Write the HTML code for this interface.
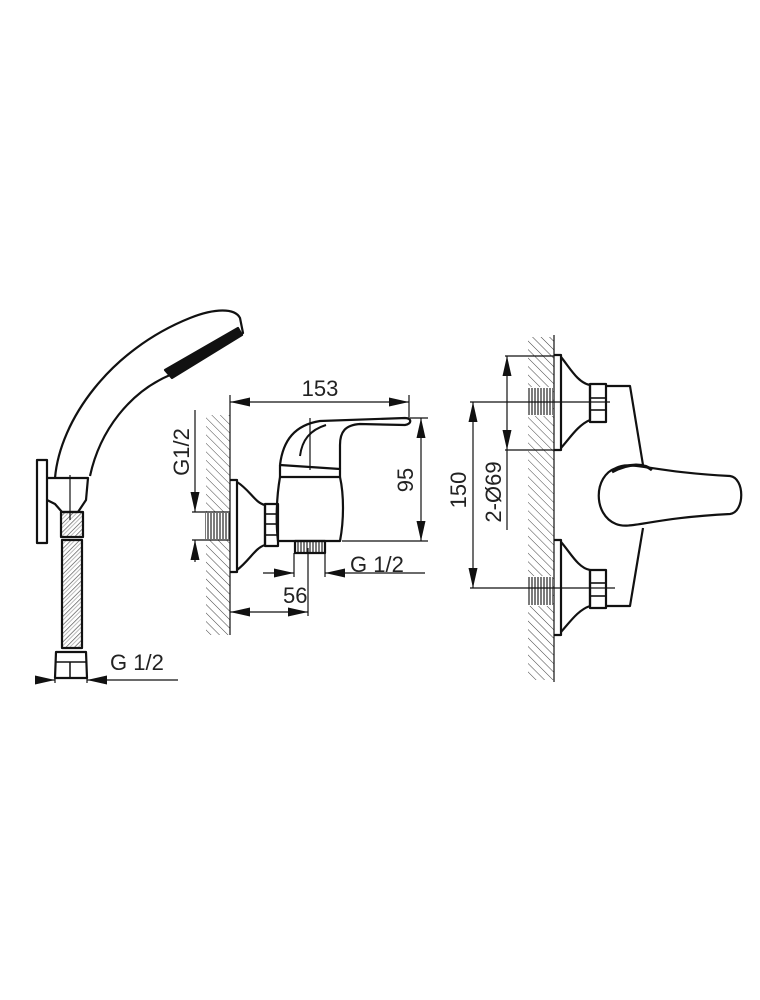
<!DOCTYPE html>
<html><head><style>
html,body{margin:0;padding:0;background:#fff}
svg{display:block}
text{font-family:"Liberation Sans",sans-serif;font-size:22px;fill:#222}
</style></head><body>
<svg width="760" height="1000" viewBox="0 0 760 1000" xmlns="http://www.w3.org/2000/svg">
<defs>
<pattern id="h" width="6" height="6" patternUnits="userSpaceOnUse" patternTransform="rotate(-45)">
<line x1="0" y1="0" x2="0" y2="6" stroke="#444" stroke-width="1"/>
</pattern>
<pattern id="t" width="3" height="4" patternUnits="userSpaceOnUse">
<line x1="1" y1="0" x2="1" y2="4" stroke="#333" stroke-width="1.3"/>
</pattern>
<pattern id="br" width="6" height="6" patternUnits="userSpaceOnUse" patternTransform="rotate(45)">
<line x1="0" y1="0" x2="0" y2="6" stroke="#444" stroke-width="1.3"/>
<line x1="3" y1="0" x2="3" y2="6" stroke="#aaa" stroke-width="0.8"/>
</pattern>
<marker id="a" viewBox="0 0 20 9" refX="20" refY="4.5" markerWidth="20" markerHeight="9" markerUnits="userSpaceOnUse" orient="auto-start-reverse">
<path d="M0,0 L20,4.5 L0,9 z" fill="#111"/>
</marker>
</defs>
<g fill="none" stroke="#111" stroke-width="2.2" stroke-linejoin="round">
<!-- LEFT: hand shower -->
<path d="M55,478 C60,420 110,350 190,318 C215,308 235,308 240,318 L243,333 L170,375 C130,392 100,430 90,476"/>
<path d="M165,370 L238,328 L242,335 L172,378 Z" fill="#111"/>
<rect x="37" y="460" width="10" height="83"/>
<path d="M47,478 L55,478 L88,478 L86,500 L78,512 L62,512 L55,504 L47,500"/>
<rect x="61" y="512" width="22" height="25" fill="url(#br)"/>
<rect x="62" y="540" width="20" height="108" fill="url(#br)"/>
<path d="M56,652 L86,652 L87,678 L55,678 Z"/>
<line x1="56" y1="662" x2="86" y2="662" stroke-width="1.5"/>
<line x1="70" y1="662" x2="70" y2="678" stroke-width="1.5"/>
</g>
<g stroke="#111" stroke-width="1.2" fill="none">
<line x1="70" y1="475" x2="70" y2="520"/>
<line x1="55" y1="678" x2="55" y2="683"/><line x1="87" y1="678" x2="87" y2="683"/>
<line x1="35" y1="680" x2="55" y2="680" marker-end="url(#a)"/>
<line x1="108" y1="680" x2="87" y2="680" marker-end="url(#a)"/>
<line x1="108" y1="680" x2="178" y2="680"/>
</g>
<text x="110" y="670">G 1/2</text>

<!-- MIDDLE -->
<rect x="206" y="415" width="24" height="220" fill="url(#h)"/>
<rect x="205" y="512" width="25" height="28" fill="#fff"/>
<rect x="205" y="513" width="25" height="26" fill="url(#t)"/>
<g fill="none" stroke="#111" stroke-width="2.2" stroke-linejoin="round">
<path d="M230,480 L237,480 L237,572 L230,572"/>
<path d="M237,482 C250,490 255,503 265,505 L265,545 C255,548 250,560 237,570"/>
<rect x="265" y="504" width="13" height="42"/>
<line x1="265" y1="514" x2="278" y2="514" stroke-width="1.6"/>
<line x1="265" y1="524" x2="278" y2="524" stroke-width="1.6"/>
<line x1="265" y1="535" x2="278" y2="535" stroke-width="1.6"/>
<path d="M280,477 C276,500 276,525 278,541 L340,541 C344,520 344,495 340,477 Z"/>
<path d="M280,465 L340,469 L340,477 M280,465 L280,477"/>
<path d="M280,465 C283,440 295,425 320,421 L405,418 C412,418 412,424 405,425 L360,424 C345,425 340,432 340,445 L340,469"/>
<path d="M300,456 C302,440 310,430 326,425" stroke-width="2"/>
<rect x="295" y="541" width="30" height="12" fill="url(#t)"/>
</g>
<g stroke="#111" stroke-width="1.2" fill="none">
<line x1="230" y1="395" x2="230" y2="635"/>
<line x1="409" y1="395" x2="409" y2="418"/>
<line x1="310" y1="418" x2="310" y2="470"/>
<line x1="230" y1="402" x2="409" y2="402" marker-start="url(#a)" marker-end="url(#a)"/>
<line x1="410" y1="418" x2="428" y2="418"/>
<line x1="342" y1="541" x2="428" y2="541"/>
<line x1="421" y1="418" x2="421" y2="541" marker-start="url(#a)" marker-end="url(#a)"/>
<line x1="294" y1="553" x2="294" y2="577"/><line x1="325" y1="553" x2="325" y2="577"/>
<line x1="263" y1="573" x2="294" y2="573" marker-end="url(#a)"/>
<line x1="347" y1="573" x2="325" y2="573" marker-end="url(#a)"/>
<line x1="347" y1="573" x2="425" y2="573"/>
<line x1="308" y1="548" x2="308" y2="616"/>
<line x1="230" y1="612" x2="308" y2="612" marker-start="url(#a)" marker-end="url(#a)"/>
<line x1="192" y1="512" x2="230" y2="512"/><line x1="192" y1="540" x2="230" y2="540"/>
<line x1="195" y1="410" x2="195" y2="512" marker-end="url(#a)"/>
<line x1="195" y1="562" x2="195" y2="540" marker-end="url(#a)"/>
</g>
<text x="320" y="396" text-anchor="middle">153</text>
<text x="283" y="603">56</text>
<text x="350" y="572">G 1/2</text>
<text transform="translate(413,480) rotate(-90)" text-anchor="middle">95</text>
<text transform="translate(189,452) rotate(-90)" text-anchor="middle">G1/2</text>

<!-- RIGHT -->
<rect x="528" y="337" width="26" height="343" fill="url(#h)"/>
<rect x="527" y="387" width="26" height="29" fill="#fff"/>
<rect x="528" y="388" width="25" height="27" fill="url(#t)"/>
<rect x="527" y="576" width="26" height="30" fill="#fff"/>
<rect x="528" y="577" width="25" height="28" fill="url(#t)"/>
<g fill="none" stroke="#111" stroke-width="2.2" stroke-linejoin="round">
<path d="M554,355 L561,355 L561,450 L554,450"/>
<path d="M561,357 C570,368 578,383 590,385 L590,420 C578,425 570,438 561,448"/>
<rect x="590" y="384" width="16" height="38"/>
<line x1="590" y1="398" x2="606" y2="398" stroke-width="1.6"/><line x1="590" y1="410" x2="606" y2="410" stroke-width="1.6"/>
<path d="M554,540 L561,540 L561,635 L554,635"/>
<path d="M561,542 C570,552 578,568 590,570 L590,606 C578,610 570,622 561,632"/>
<rect x="590" y="570" width="16" height="38"/>
<line x1="590" y1="583" x2="606" y2="583" stroke-width="1.6"/><line x1="590" y1="596" x2="606" y2="596" stroke-width="1.6"/>
<path d="M606,386 L630,386 L643,465 M643,528 L630,606 L606,606"/>
<path d="M616,468 C630,460 650,472 730,476 C745,478 745,512 730,514 C650,518 630,530 616,524 C593,515 593,476 616,468 Z"/>
<path d="M612,472 C630,462 645,464 652,470" stroke-width="3"/>
</g>
<g stroke="#111" stroke-width="1.2" fill="none">
<line x1="554" y1="335" x2="554" y2="682"/>
<line x1="505" y1="356" x2="554" y2="356"/><line x1="505" y1="450" x2="554" y2="450"/>
<line x1="507" y1="356" x2="507" y2="450" marker-start="url(#a)" marker-end="url(#a)"/>
<line x1="507" y1="450" x2="507" y2="530"/>
<line x1="470" y1="402" x2="610" y2="402"/><line x1="470" y1="588" x2="615" y2="588"/>
<line x1="473" y1="402" x2="473" y2="588" marker-start="url(#a)" marker-end="url(#a)"/>
</g>
<text transform="translate(466,490) rotate(-90)" text-anchor="middle">150</text>
<text transform="translate(501,492) rotate(-90)" text-anchor="middle">2-Ø69</text>
</svg>
</body></html>
